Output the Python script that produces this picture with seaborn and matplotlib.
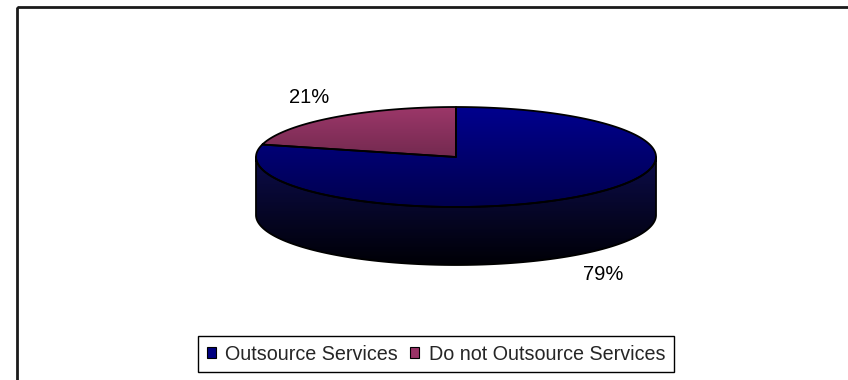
import numpy as np
import matplotlib
matplotlib.use("Agg")
import matplotlib.pyplot as plt
import seaborn as sns
from matplotlib.patches import Polygon, Rectangle, Patch
from matplotlib.colors import LinearSegmentedColormap

# ---- data ----
categories = ["Outsource Services", "Do not Outsource Services"]
shares = [79, 21]
legend_colors = ["#000080", "#993366"]
top_gradients = [("#00008E", "#00004E"), ("#9C3769", "#4A1C36")]
side_gradients = [("#0C0C4A", "#000006"), ("#4A1C36", "#150510")]

sns.set_theme(style="white")
plt.rcParams['font.family'] = ['Liberation Sans', 'DejaVu Sans']

W, H = 848, 380
fig = plt.figure(figsize=(W / 100, H / 100), dpi=100)
fig.patch.set_facecolor("white")
ax = fig.add_axes([0, 0, 1, 1])
ax.set_facecolor("white")

cx, cy, rx, ry, depth = 456, 157, 200, 50, 58


def arc(a0, a1, yoff=0, n=200):
    t = np.radians(np.linspace(a0, a1, n))
    return np.column_stack([cx + rx * np.cos(t), cy - ry * np.sin(t) + yoff])


def grad_fill(xy, c_top, c_bot, y0, y1, z):
    patch = Polygon(xy, closed=True, facecolor="none", edgecolor="none")
    ax.add_patch(patch)
    cmap = LinearSegmentedColormap.from_list("g", [c_top, c_bot])
    grad = np.linspace(0, 1, 256).reshape(-1, 1)
    im = ax.imshow(grad, cmap=cmap, extent=(cx - rx - 3, cx + rx + 3, y1, y0),
                   aspect="auto", zorder=z, interpolation="bilinear", origin="upper")
    im.set_clip_path(patch)


# slice angles: start at 12 o'clock, clockwise
total = float(sum(shares))
ranges = []
start = 90.0
for v in shares:
    sweep = 360.0 * v / total
    ranges.append((start - sweep, start))
    start -= sweep

# side walls (front half: -180..0 degrees)
for i, (a0, a1) in enumerate(ranges):
    for k in (-360, 0, 360):
        lo, hi = max(a0 + k, -180), min(a1 + k, 0)
        if lo < hi:
            xy = np.vstack([arc(lo, hi), arc(hi, lo, depth)])
            grad_fill(xy, side_gradients[i][0], side_gradients[i][1], cy, cy + ry + depth, 1)
            ax.add_patch(Polygon(xy, closed=True, facecolor="none", edgecolor="black",
                                 lw=1.3, zorder=3, joinstyle="round"))

# top faces
for i, (a0, a1) in enumerate(ranges):
    xy = np.vstack([[[cx, cy]], arc(a0, a1)])
    grad_fill(xy, top_gradients[i][0], top_gradients[i][1], cy - ry, cy + ry, 2)
    ax.add_patch(Polygon(xy, closed=True, facecolor="none", edgecolor="black",
                         lw=1.3, zorder=4, joinstyle="round"))

# percentage labels
for i, (a0, a1) in enumerate(ranges):
    m = np.radians((a0 + a1) / 2)
    lx = cx + 1.2 * rx * np.cos(m)
    ly = cy - 1.5 * ry * np.sin(m) + (depth if np.sin(m) < 0 else 0)
    ax.text(lx, ly, f"{shares[i]:.0f}%", ha="center", va="center",
            fontsize=14.5, color="black", zorder=5)

# chart frame
ax.add_patch(Rectangle((17, 6.5), 1000, 500, fill=False, edgecolor="#1a1a1a", lw=2, zorder=6))

ax.set_xlim(0, W)
ax.set_ylim(H, 0)
ax.axis("off")

handles = [Patch(facecolor=c, edgecolor="black", lw=0.8) for c in legend_colors]
leg = fig.legend(handles, categories, ncol=2, loc="center",
                 bbox_to_anchor=(436 / W, 1 - 354 / H), fontsize=14.2,
                 handlelength=0.45, handleheight=0.45, handletextpad=0.5,
                 columnspacing=0.6, borderpad=0.42, frameon=True, fancybox=False,
                 framealpha=1, edgecolor="black")
leg.get_frame().set_linewidth(1.0)

fig.savefig("out.png", dpi=100)
